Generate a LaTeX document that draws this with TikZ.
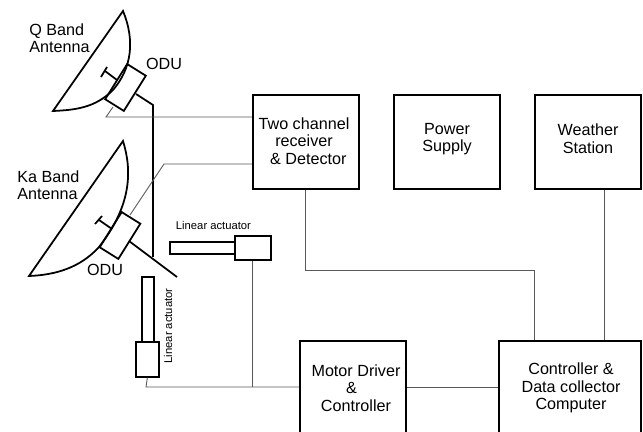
\documentclass[tikz,border=0pt]{standalone}
\usepackage{fontspec}
\setmainfont{Liberation Sans}
\usepackage{tikz}
\usetikzlibrary{positioning}

\begin{document}
\begin{tikzpicture}[x=0.02cm, y=-0.02cm, font=\fontsize{9.2}{10}\selectfont,
  box/.style={draw, line width=1pt, anchor=north west, inner sep=0pt},
  part/.style={draw, line width=1pt, fill=white, anchor=north west, inner sep=0pt},
  odu/.style={draw, line width=1pt, minimum width=0.44cm, minimum height=0.83cm, inner sep=0pt, rotate=-32},
  wire/.style={draw=black!65, line width=0.5pt},
  thick line/.style={line width=1pt},
  txt/.style={inner sep=0pt, align=center},
  small/.style={font=\fontsize{6.4}{7.5}\selectfont, inner sep=0pt}
]
\useasboundingbox (0,0) rectangle (643,432);
% dishes
\draw[thick line] (123,11) .. controls (135,40) and (132,68) .. (113,90) .. controls (95,108) and (75,110) .. (53,111) -- cycle;
\draw[thick line] (123,141) .. controls (132,170) and (132,205) .. (99,247) .. controls (80,268) and (55,275) .. (29,276) -- cycle;
% blocks, the lower two run off the page
\node[box, minimum width=2.12cm, minimum height=1.89cm] (recv) at (252,94) {};
\node[box, minimum width=2.12cm, minimum height=1.89cm] (power) at (393,94) {};
\node[box, minimum width=2.12cm, minimum height=1.89cm] (weather) at (534,94) {};
\node[box, minimum width=2.12cm, minimum height=1.96cm] (motor) at (299,340) {};
\node[box, minimum width=2.84cm, minimum height=1.96cm] (ctrl) at (498,340) {};
\node[txt] (recvtext) at (304,141) {Two channel\\receiver\\\hspace*{5pt}\& Detector};
\node[txt] (powertext) at (447,139) {Power\\Supply};
\node[txt] (weathertext) at (588,139) {Weather\\Station};
\node[txt] (motortext) at (356,388) {Motor Driver\\[0pt]\hspace*{-5pt}\&\\Controller};
\node[txt] (ctrltext) at (571,388) {Controller \&\\Data collector\\Computer};
% Q band
\node[odu] (oduq) at (125.5,87.5) {};
\coordinate (qfeed) at (117,80);
\coordinate (qfeedend) at (105,71);
\coordinate (qbara) at (107,67);
\coordinate (qbarb) at (101,77);
\draw[thick line] (qfeed) -- (qfeedend);
\draw[thick line] (qbara) -- (qbarb);
\coordinate (qarmstart) at (136,94);
\coordinate (qarm) at (153,105);
\coordinate (qfoot) at (153,257);
\draw[thick line] (qarmstart) -- (qarm) -- (qfoot);
\coordinate (qwirestart) at (113,107);
\coordinate (qwire) at (106,117);
\draw[wire] (qwirestart) -- (qwire) -- (qwire -| recv.west);
% Ka band
\node[odu] (oduka) at (120,235.5) {};
\coordinate (kafeed) at (112,229);
\coordinate (kafeedend) at (99,220);
\coordinate (kabara) at (102,216);
\coordinate (kabarb) at (95,224);
\draw[thick line] (kafeed) -- (kafeedend);
\draw[thick line] (kabara) -- (kabarb);
\coordinate (kaarmstart) at (129,241);
\coordinate (kaarm) at (177,277);
\draw[thick line] (kaarmstart) -- (kaarm);
\coordinate (kawirestart) at (130,215);
\coordinate (kawire) at (164,164);
\draw[wire] (kawirestart) -- (kawire) -- (kawire -| recv.west);
% actuators
\node[part, minimum width=1.3cm, minimum height=0.24cm] (rodh) at (169,241) {};
\node[part, minimum width=0.72cm, minimum height=0.48cm] (acth) at (234,235) {};
\node[part, minimum width=0.24cm, minimum height=1.3cm] (rodv) at (141,276) {};
\node[part, minimum width=0.46cm, minimum height=0.7cm] (actv) at (135,341) {};
\node[small] (acthlabel) at (213.5,225) {Linear actuator};
\node[small, rotate=90] (actvlabel) at (168,326) {Linear actuator};
% connections
\coordinate (actvfoot) at (146,387);
\draw[wire] (actv.south) -- (actvfoot) -- (actvfoot -| motor.west);
\coordinate (acthfoot) at (252,387);
\draw[wire] (acth.south -| acthfoot) -- (acthfoot);
\coordinate (recvfoot) at (305,270);
\coordinate (ctrlfoot) at (534,270);
\draw[wire] (recvfoot |- recv.south) -- (recvfoot) -- (ctrlfoot) -- (ctrlfoot |- ctrl.north);
\draw[wire] (motor.east |- acthfoot) -- (ctrl.west |- acthfoot);
\coordinate (weatherfoot) at (604,270);
\draw[wire] (weatherfoot |- weather.south) -- (weatherfoot |- ctrl.north);
% labels
\node[txt, align=left, anchor=north west] (qlabel) at (29,23) {Q Band\\Antenna};
\node[txt, align=left, anchor=north west] (kalabel) at (17,170) {Ka Band\\Antenna};
\node[txt] (oduqlabel) at (164,64) {ODU};
\node[txt] (odukalabel) at (105,270) {ODU};
\end{tikzpicture}
\end{document}
